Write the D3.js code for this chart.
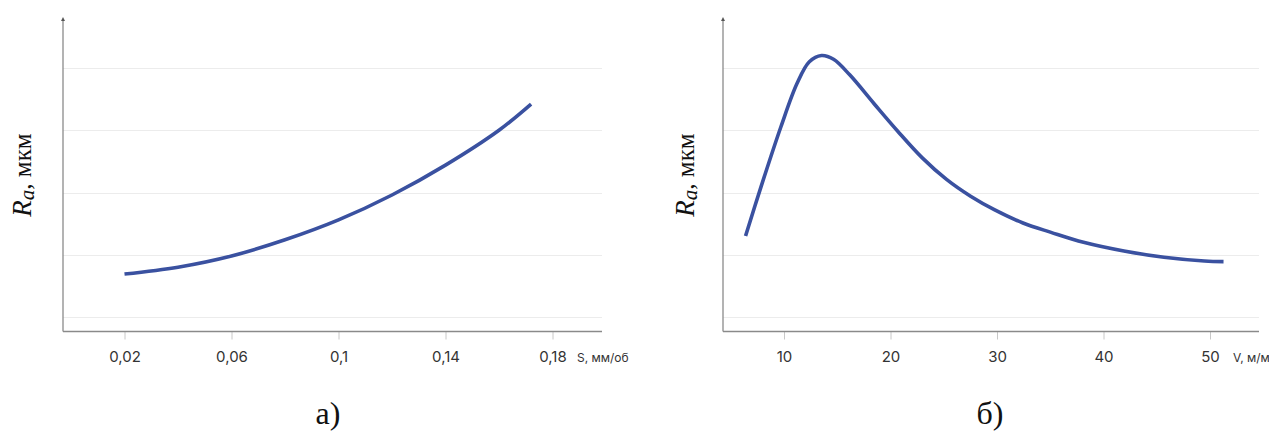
<!DOCTYPE html>
<html><head><meta charset="utf-8">
<script src="https://cdn.jsdelivr.net/npm/d3@7"></script>
<style>
html,body{margin:0;padding:0;background:#fff;overflow:hidden;}
svg{display:block;}
</style></head>
<body>
<svg id="c" width="1269" height="436"></svg>
<script>
// Panel a): Ra vs feed S
const feedS = [0.02, 0.04, 0.06, 0.08, 0.10, 0.12, 0.14, 0.16, 0.172];
const raFeed = [0.69, 0.80, 0.98, 1.24, 1.56, 1.96, 2.44, 3.00, 3.42];
const feedTicks = [0.02, 0.06, 0.10, 0.14, 0.18];
const feedTickLabels = ["0,02", "0,06", "0,1", "0,14", "0,18"];

// Panel б): Ra vs speed V
const speedV = [6.39, 7.84, 9.72, 11.22, 12.38, 13.52, 14.65, 16.17, 18.44, 20.70, 22.96, 25.26, 27.52, 29.79, 32.44, 35.07, 38.12, 41.92, 45.68, 49.48, 51.27];
const raSpeed = [1.30, 2.09, 3.06, 3.75, 4.10, 4.20, 4.14, 3.89, 3.43, 2.98, 2.56, 2.21, 1.94, 1.72, 1.51, 1.36, 1.20, 1.06, 0.96, 0.90, 0.89];
const speedTicks = [10, 20, 30, 40, 50];
const speedTickLabels = ["10", "20", "30", "40", "50"];

const gridValues = [0, 1, 2, 3, 4];

const svg = d3.select("#c");
const y = d3.scaleLinear().domain([0, 4]).range([317, 68]);
const axisY = 331.5, topY = 17;

function panel(cfg) {
  const g = svg.append("g");
  const x = cfg.x;
  // grid
  g.selectAll("line.grid").data(gridValues).join("line")
    .attr("x1", cfg.left).attr("x2", cfg.right)
    .attr("y1", d => Math.round(y(d)) + 0.5).attr("y2", d => Math.round(y(d)) + 0.5)
    .attr("stroke", "#ececec").attr("stroke-width", 1);
  // x axis
  const ax = d3.axisBottom(x).tickValues(cfg.ticks).tickFormat((d, i) => cfg.labels[i])
    .tickSize(8).tickSizeOuter(0).tickPadding(12);
  const axg = g.append("g").attr("transform", `translate(0,${axisY})`).call(ax);
  axg.select(".domain").remove();
  axg.selectAll(".tick line").attr("stroke", "#c8c8c8");
  axg.selectAll(".tick text").attr("fill", "#333")
    .style("font-family", "Inter, 'Noto Sans', sans-serif").style("font-size", "15px");
  g.append("line").attr("x1", cfg.left).attr("x2", cfg.right).attr("y1", axisY).attr("y2", axisY)
    .attr("stroke", "#8a8a8a").attr("stroke-width", 1.3);
  // y axis
  g.append("line").attr("x1", cfg.left).attr("x2", cfg.left).attr("y1", topY + 2).attr("y2", axisY)
    .attr("stroke", "#8a8a8a").attr("stroke-width", 1.3);
  g.append("path").attr("d", `M${cfg.left},${topY} L${cfg.left - 2},${topY + 4} L${cfg.left + 2},${topY + 4} Z`)
    .attr("fill", "#555");
  // unit label
  g.append("text").attr("x", cfg.unitX).attr("y", 362).text(cfg.unit)
    .attr("fill", "#333").style("font-family", "Inter, 'Noto Sans', sans-serif").style("font-size", "12px");
  // y label
  const yl = g.append("text").attr("transform", `translate(${cfg.ylabX},175) rotate(-90)`)
    .attr("text-anchor", "middle").style("font-family", "'Liberation Serif', 'Times New Roman', serif")
    .style("font-size", "27px").attr("fill", "#111");
  yl.append("tspan").text("R").style("font-style", "italic");
  yl.append("tspan").text("a").style("font-style", "italic").style("font-size", "21px").attr("dy", 3);
  yl.append("tspan").text(", мкм").style("font-size", "25px").attr("dy", -3);
  // curve
  const line = d3.line().x(d => x(d[0])).y(d => y(d[1])).curve(d3.curveCatmullRom.alpha(0.5));
  g.append("path").datum(d3.zip(cfg.xs, cfg.ys)).attr("d", line)
    .attr("fill", "none").attr("stroke", "#3a51a0").attr("stroke-width", 3.6);
  // caption
  g.append("text").attr("x", cfg.capX).attr("y", 424).attr("text-anchor", "middle").text(cfg.caption)
    .style("font-family", "'Liberation Serif', 'Times New Roman', serif").style("font-size", "32px").attr("fill", "#111");
}

panel({
  x: d3.scaleLinear().domain([0.02, 0.18]).range([124.5, 552.5]),
  left: 63, right: 602, ticks: feedTicks, labels: feedTickLabels,
  unit: "S, мм/об", unitX: 577, ylabX: 31, xs: feedS, ys: raFeed, caption: "а)", capX: 328
});
panel({
  x: d3.scaleLinear().domain([10, 50]).range([784, 1210]),
  left: 723, right: 1259, ticks: speedTicks, labels: speedTickLabels,
  unit: "V, м/мин", unitX: 1233, ylabX: 694, xs: speedV, ys: raSpeed, caption: "б)", capX: 990
});
</script>
</body></html>
